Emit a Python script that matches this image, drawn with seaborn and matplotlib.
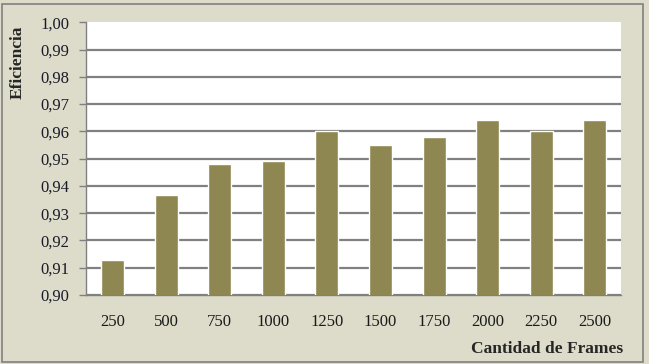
import pandas as pd
import matplotlib.pyplot as plt
import seaborn as sns
from matplotlib.patches import Rectangle

frames = ['250', '500', '750', '1000', '1250', '1500', '1750', '2000', '2250', '2500']
eficiencia = [0.913, 0.9365, 0.948, 0.949, 0.960, 0.955, 0.958, 0.964, 0.960, 0.964]

datos = pd.DataFrame({'frames': frames, 'eficiencia': eficiencia})

sns.set_style('white')
plt.rcParams['font.family'] = ['Liberation Serif', 'DejaVu Serif']

fig = plt.figure(figsize=(6.49, 3.64), dpi=100)
fig.patch.set_facecolor('#DDDBC9')
ax = fig.add_axes([0.1325, 0.1896, 0.825, 0.749])
ax.set_facecolor('white')

sns.barplot(x='frames', y='eficiencia', data=datos, color='#8F8752',
            width=0.43, saturation=1, ax=ax, zorder=3)

ax.set_ylim(0.90, 1.00)
ax.set_xlim(-0.5, 9.5)
yt = [0.90 + i * 0.01 for i in range(11)]
ax.set_yticks(yt)
ax.set_yticklabels([f'{v:.2f}'.replace('.', ',') for v in yt], fontsize=12, color='#1a1a2a')
ax.yaxis.grid(True, color='#808080', linewidth=1.6, zorder=0)
ax.set_axisbelow(True)
ax.get_ygridlines()[-1].set_visible(False)

ax.set_xticks(range(len(frames)))
ax.set_xticklabels(frames, fontsize=12, color='#1a1a1a')
ax.set_xticks([i - 0.5 for i in range(len(frames) + 1)], minor=True)
ax.tick_params(axis='x', which='major', length=0, pad=14)
ax.tick_params(axis='x', which='minor', length=5, color='#808080', width=1)
ax.tick_params(axis='y', which='major', length=5, color='#808080', width=1, pad=7, left=True)

for s in ['top', 'right']:
    ax.spines[s].set_visible(False)
for s in ['left', 'bottom']:
    ax.spines[s].set_color('#808080')
    ax.spines[s].set_linewidth(1)

ax.set_xlabel('')
ax.set_ylabel('')
fig.text(0.028, 0.83, 'Eficiencia', rotation=90, fontsize=12.5, fontweight='bold',
         ha='center', va='center')
fig.text(0.843, 0.04, 'Cantidad de Frames', fontsize=12.5, fontweight='bold',
         ha='center', va='center')

fig.patches.append(Rectangle((0.003, 0.0055), 0.988, 0.983, transform=fig.transFigure,
                             fill=False, edgecolor='#808080', linewidth=1.2))

plt.savefig('out.png', dpi=100, facecolor=fig.get_facecolor())
